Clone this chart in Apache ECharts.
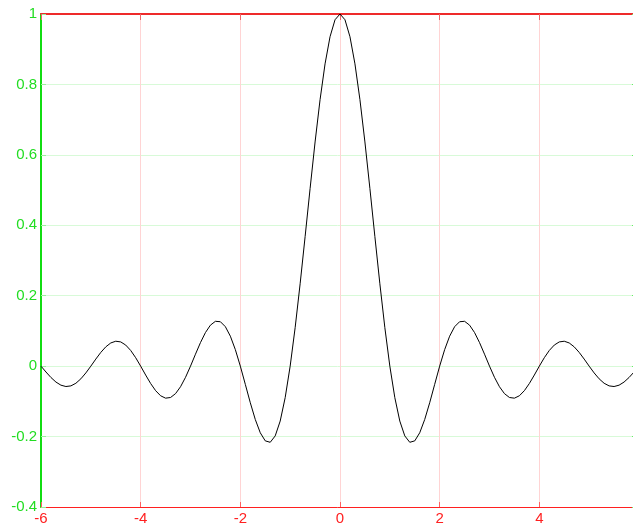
<!DOCTYPE html>
<html>
<head>
<meta charset="utf-8">
<script src="https://cdn.jsdelivr.net/npm/echarts@6/dist/echarts.min.js"></script>
<style>
html,body{margin:0;padding:0;background:#fff;}
#chart{width:633px;height:529px;}
</style>
</head>
<body>
<div id="chart"></div>
<script>
const xs = [
-6.0,-5.9,-5.8,-5.7,-5.6,-5.5,-5.4,-5.3,-5.2,-5.1,
-5.0,-4.9,-4.8,-4.7,-4.6,-4.5,-4.4,-4.3,-4.2,-4.1,
-4.0,-3.9,-3.8,-3.7,-3.6,-3.5,-3.4,-3.3,-3.2,-3.1,
-3.0,-2.9,-2.8,-2.7,-2.6,-2.5,-2.4,-2.3,-2.2,-2.1,
-2.0,-1.9,-1.8,-1.7,-1.6,-1.5,-1.4,-1.3,-1.2,-1.1,
-1.0,-0.9,-0.8,-0.7,-0.6,-0.5,-0.4,-0.3,-0.2,-0.1,
0.0,
0.1,0.2,0.3,0.4,0.5,0.6,0.7,0.8,0.9,1.0,
1.1,1.2,1.3,1.4,1.5,1.6,1.7,1.8,1.9,2.0,
2.1,2.2,2.3,2.4,2.5,2.6,2.7,2.8,2.9,3.0,
3.1,3.2,3.3,3.4,3.5,3.6,3.7,3.8,3.9,4.0,
4.1,4.2,4.3,4.4,4.5,4.6,4.7,4.8,4.9,5.0,
5.1,5.2,5.3,5.4,5.5,5.6,5.7,5.8,5.9,6.0
];
const ys = [
0,-0.01667,-0.03226,-0.04518,-0.05406,-0.05787,-0.05606,-0.04859,-0.03598,-0.01929,
0,0.02007,0.03898,0.05479,0.06581,0.07074,0.06880,0.05989,0.04455,0.02399,
0,-0.02522,-0.04924,-0.06960,-0.08409,-0.09095,-0.08904,-0.07804,-0.05847,-0.03173,
0,0.03392,0.06682,0.09538,0.11643,0.12732,0.12614,0.11196,0.08504,0.04684,
0,-0.05177,-0.10394,-0.15148,-0.18921,-0.21221,-0.21624,-0.19809,-0.15592,-0.08942,
0,0.10929,0.23387,0.36788,0.50455,0.63662,0.75683,0.85839,0.93549,0.98363,
1,
0.98363,0.93549,0.85839,0.75683,0.63662,0.50455,0.36788,0.23387,0.10929,0,
-0.08942,-0.15592,-0.19809,-0.21624,-0.21221,-0.18921,-0.15148,-0.10394,-0.05177,0,
0.04684,0.08504,0.11196,0.12614,0.12732,0.11643,0.09538,0.06682,0.03392,0,
-0.03173,-0.05847,-0.07804,-0.08904,-0.09095,-0.08409,-0.06960,-0.04924,-0.02522,0,
0.02399,0.04455,0.05989,0.06880,0.07074,0.06581,0.05479,0.03898,0.02007,0,
-0.01929,-0.03598,-0.04859,-0.05606,-0.05787,-0.05406,-0.04518,-0.03226,-0.01667,0
];
const xMin = -6, xMax = 6, xStep = 2;
const yMin = -0.4, yMax = 1, yStep = 0.2;

const red = '#ff2020';
const green = '#22dd22';
const font = 'Liberation Sans, Arial, sans-serif';

const chart = echarts.init(document.getElementById('chart'), null, {renderer: 'canvas'});
const pts = xs.map((x, i) => [x, ys[i]]);

chart.setOption({
  animation: false,
  backgroundColor: '#ffffff',
  grid: {left: 41, top: 14, width: 598, height: 493, containLabel: false, outerBoundsMode: 'none'},
  xAxis: [
    {
      type: 'value', position: 'bottom', min: xMin, max: xMax, interval: xStep,
      axisLine: {show: true, onZero: false, lineStyle: {color: red, width: 1}},
      axisTick: {show: true, inside: true, length: 5, lineStyle: {color: '#ff6060', width: 1}},
      axisLabel: {show: true, color: red, fontSize: 15, fontFamily: font, margin: 4},
      splitLine: {show: true, lineStyle: {color: '#ffd4d4', width: 1}}
    },
    {
      type: 'value', position: 'top', min: xMin, max: xMax, interval: xStep,
      axisLine: {show: true, onZero: false, lineStyle: {color: '#ee2a2a', width: 2}},
      axisTick: {show: true, inside: true, length: 6, lineStyle: {color: '#ee6666', width: 1}},
      axisLabel: {show: false},
      splitLine: {show: false}
    }
  ],
  yAxis: [
    {
      type: 'value', position: 'left', min: yMin, max: yMax, interval: yStep,
      axisLine: {show: true, onZero: false, lineStyle: {color: '#11dd11', width: 2}},
      axisTick: {show: true, inside: true, length: 5, lineStyle: {color: '#99ee99', width: 1}},
      axisLabel: {show: true, color: green, fontSize: 15, fontFamily: font, margin: 4},
      splitLine: {show: true, lineStyle: {color: '#d8fad8', width: 1}}
    },
    {
      type: 'value', position: 'right', min: yMin, max: yMax, interval: yStep,
      axisLine: {show: true, onZero: false, lineStyle: {color: '#11dd11', width: 2}},
      axisTick: {show: true, inside: true, length: 7, lineStyle: {color: '#66ee66', width: 1}},
      axisLabel: {show: false},
      splitLine: {show: false}
    }
  ],
  series: [{
    type: 'line',
    data: pts,
    xAxisIndex: 0,
    yAxisIndex: 0,
    showSymbol: false,
    symbol: 'none',
    smooth: false,
    lineStyle: {color: '#000000', width: 1},
    clip: true
  }]
});
</script>
</body>
</html>
